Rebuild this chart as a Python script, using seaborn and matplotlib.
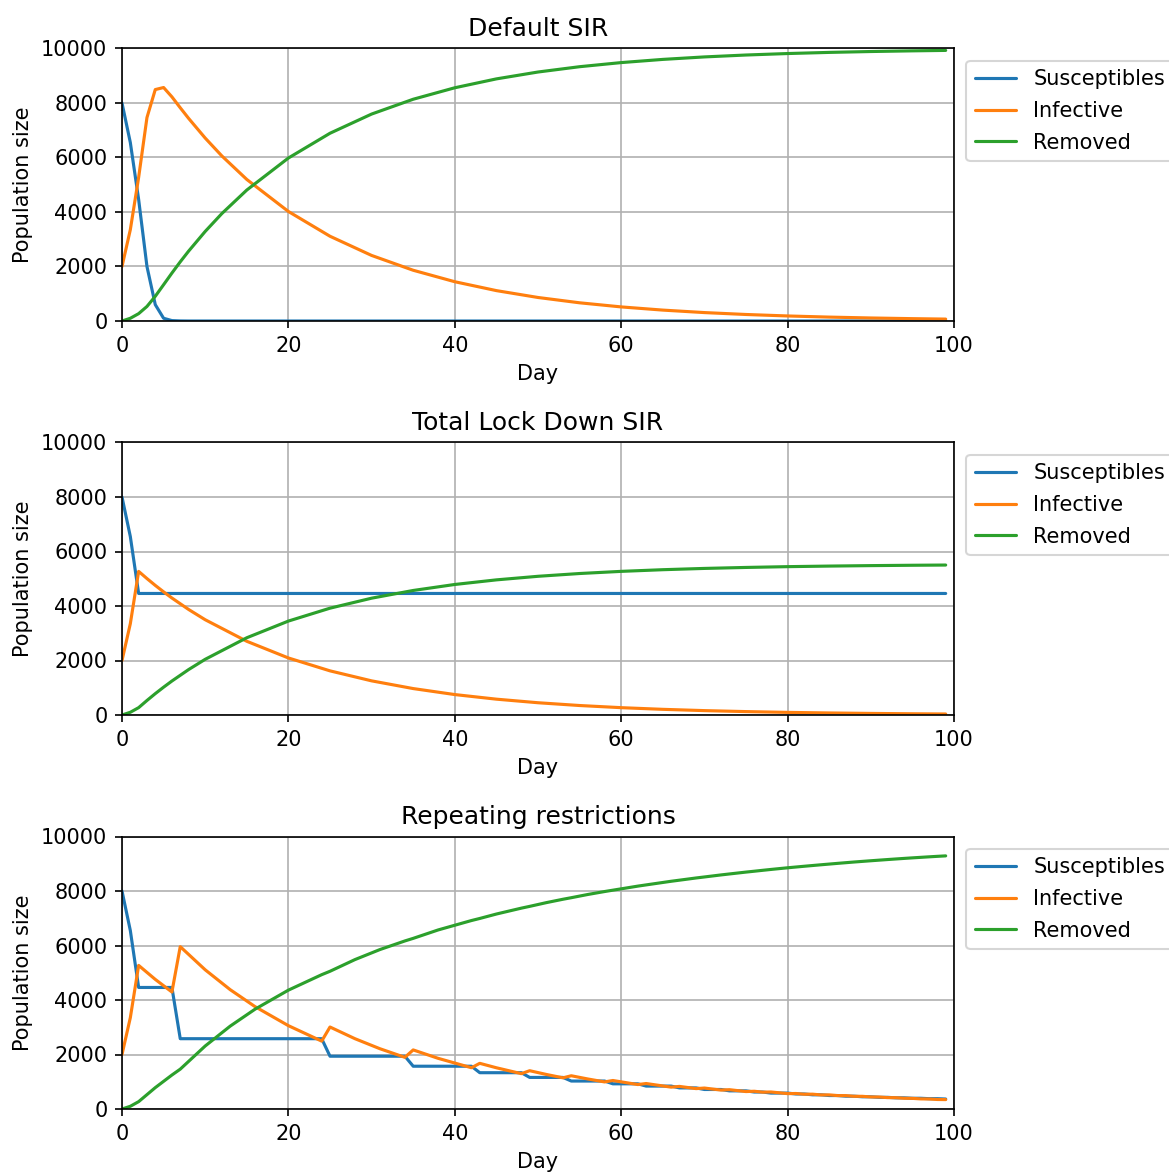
import matplotlib
matplotlib.use("Agg")
import matplotlib.pyplot as plt
import seaborn as sns

# ---------------- data ----------------
labels = ["Susceptibles", "Infective", "Removed"]
titles = ["Default SIR", "Total Lock Down SIR", "Repeating restrictions"]

# Default SIR
days1 = [0, 1, 2, 3, 4, 5, 6, 7, 8, 10, 12, 15, 20, 25, 30, 35, 40, 45, 50,
         55, 60, 65, 70, 75, 80, 85, 90, 95, 99]
S1 = [8000, 6550, 4460, 2000, 600, 100, 15, 3, 0, 0, 0, 0, 0, 0, 0, 0, 0, 0, 0,
      0, 0, 0, 0, 0, 0, 0, 0, 0, 0]
I1 = [2000, 3350, 5270, 7466, 8493, 8568, 8225, 7826, 7438, 6713, 6058, 5194,
      4019, 3110, 2406, 1862, 1441, 1115, 863, 668, 517, 400, 309, 239, 185,
      143, 111, 86, 70]
R1 = [0, 100, 270, 534, 907, 1332, 1760, 2171, 2562, 3287, 3942, 4806, 5981,
      6890, 7594, 8138, 8559, 8885, 9137, 9332, 9483, 9600, 9691, 9761, 9815,
      9857, 9889, 9914, 9930]

# Total lock down SIR
days2 = [0, 1, 2, 3, 4, 5, 6, 8, 10, 15, 20, 25, 30, 35, 40, 45, 50, 55, 60,
         65, 70, 75, 80, 85, 90, 95, 99]
S2 = [8000, 6550, 4460, 4460, 4460, 4460, 4460, 4460, 4460, 4460, 4460, 4460,
      4460, 4460, 4460, 4460, 4460, 4460, 4460, 4460, 4460, 4460, 4460, 4460,
      4460, 4460, 4460]
I2 = [2000, 3350, 5270, 5007, 4756, 4519, 4293, 3874, 3496, 2705, 2093, 1620,
      1253, 970, 750, 581, 450, 348, 269, 208, 161, 125, 96, 75, 58, 45, 37]
R2 = [0, 100, 270, 533, 784, 1021, 1247, 1666, 2044, 2835, 3447, 3920, 4287,
      4570, 4790, 4959, 5090, 5192, 5271, 5332, 5379, 5415, 5444, 5465, 5482,
      5495, 5503]

# Repeating restrictions
days3 = [0, 1, 2, 4, 6, 7, 10, 13, 16, 20, 24, 25, 28, 31, 34, 35, 38, 42, 43,
         45, 48, 49, 51, 53, 54, 56, 58, 59, 62, 63, 66, 67, 69, 70, 72, 73, 75,
         76, 77, 78, 80, 81, 82, 83, 84, 85, 86, 87, 88, 89, 90, 91, 92, 93, 94,
         95, 96, 97, 98, 99]
S3 = [8000, 6550, 4460, 4460, 4460, 2580, 2580, 2580, 2580, 2580, 2580, 1937,
      1937, 1937, 1937, 1570, 1570, 1570, 1332, 1332, 1332, 1159, 1159, 1159,
      1026, 1026, 1026, 924, 924, 841, 841, 774, 774, 716, 716, 666, 666, 623,
      623, 584, 584, 551, 551, 521, 521, 494, 494, 470, 470, 448, 448, 428, 428,
      410, 410, 394, 394, 379, 379, 366]
I3 = [2000, 3350, 5270, 4756, 4293, 5958, 5108, 4380, 3755, 3058, 2491, 3009,
      2580, 2212, 1896, 2168, 1859, 1514, 1676, 1513, 1297, 1405, 1268, 1144,
      1220, 1101, 994, 1046, 897, 935, 802, 829, 748, 769, 694, 709, 640, 651,
      618, 625, 564, 569, 541, 544, 517, 518, 492, 491, 466, 465, 442, 440, 418,
      415, 394, 390, 371, 367, 349, 345]
R3 = [0, 100, 270, 784, 1247, 1462, 2312, 3040, 3665, 4362, 4929, 5054, 5483,
      5851, 6167, 6262, 6571, 6916, 6992, 7155, 7371, 7436, 7573, 7697, 7754,
      7873, 7980, 8030, 8179, 8224, 8357, 8397, 8478, 8515, 8590, 8625, 8694,
      8726, 8759, 8791, 8852, 8880, 8908, 8935, 8962, 8988, 9014, 9039, 9064,
      9087, 9110, 9132, 9154, 9175, 9196, 9216, 9235, 9254, 9272, 9289]

y_ticks = [0, 2000, 4000, 6000, 8000, 10000]
x_ticks = [0, 20, 40, 60, 80, 100]
colors = ["#1f77b4", "#ff7f0e", "#2ca02c"]

# ---------------- style ----------------
sns.set_style("white")
plt.rcParams["font.family"] = ["DejaVu Sans"]
plt.rcParams.update({
    "font.size": 10,
    "axes.edgecolor": "black",
    "axes.linewidth": 0.8,
    "xtick.bottom": True,
    "ytick.left": True,
    "xtick.major.size": 3.5,
    "ytick.major.size": 3.5,
    "xtick.major.width": 0.8,
    "ytick.major.width": 0.8,
    "xtick.color": "black",
    "ytick.color": "black",
    "text.color": "black",
    "axes.labelcolor": "black",
    "grid.color": "#b0b0b0",
    "grid.linewidth": 0.8,
})

W, H = 1169, 1174
fig = plt.figure(figsize=(W / 150, H / 150), dpi=150)

left = 122 / W
width = (954 - 122) / W
tops = [48.5, 442.5, 836.5]
bots = [321, 715, 1109]

panels = [(days1, S1, I1, R1), (days2, S2, I2, R2), (days3, S3, I3, R3)]

for k, (d, s, i, r) in enumerate(panels):
    ax = fig.add_axes([left, 1 - bots[k] / H, width, (bots[k] - tops[k]) / H])
    for series, lab, col in zip([s, i, r], labels, colors):
        sns.lineplot(x=d, y=series, ax=ax, label=lab, color=col,
                     linewidth=1.5, estimator=None)
    ax.set_xlim(0, 100)
    ax.set_ylim(0, 10000)
    ax.set_xticks(x_ticks)
    ax.set_yticks(y_ticks)
    ax.grid(True)
    ax.set_title(titles[k], fontsize=12)
    ax.set_xlabel("Day")
    ax.set_ylabel("Population size")
    ax.legend(loc="upper left", bbox_to_anchor=(1.0, 1.0), fontsize=10,
              frameon=True, fancybox=True, framealpha=0.8, edgecolor="0.8",
              labelspacing=0.56, borderaxespad=0.6)
    for sp in ax.spines.values():
        sp.set_visible(True)
        sp.set_color("black")

fig.savefig("out.png", dpi=150)
